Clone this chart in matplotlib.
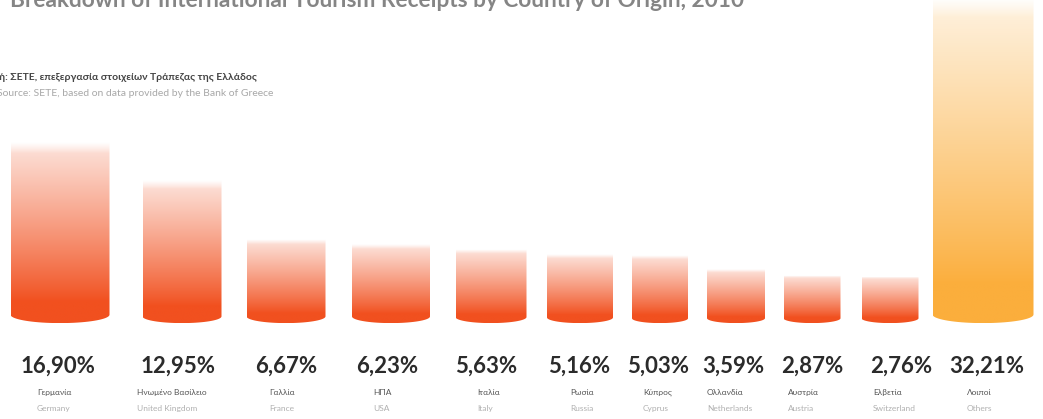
import numpy as np
import matplotlib.pyplot as plt
from matplotlib.path import Path
from matplotlib.colors import to_rgb
from matplotlib.transforms import blended_transform_factory

plt.rcParams['font.family'] = ['Lato', 'DejaVu Sans']

# receipts share by country of origin, 2010 (%)
names_el = ['Γερμανία', 'Ηνωμένο Βασίλειο', 'Γαλλία', 'ΗΠΑ', 'Ιταλία', 'Ρωσία',
            'Κύπρος', 'Ολλανδία', 'Αυστρία', 'Ελβετία', 'Λοιποί']
names_en = ['Germany', 'United Kingdom', 'France', 'USA', 'Italy', 'Russia',
            'Cyprus', 'Netherlands', 'Austria', 'Switzerland', 'Others']
shares = [16.90, 12.95, 6.67, 6.23, 5.63, 5.16, 5.03, 3.59, 2.87, 2.76, 32.21]

# layout in pixels across the page
bar_x = [60, 182, 286, 391, 491, 580, 660, 736, 812, 890, 983]
bar_w = [99, 79, 79, 78, 71, 66, 56, 58, 57, 57, 101]
pct_x = [58, 178, 286, 387, 486, 579, 658, 733, 812, 901, 987]
name_x = [37, 137, 269, 373, 477, 570, 643, 707, 788, 873, 967]

W, H = 1043, 419
PX = 9.48          # pixels per percentage point
ZERO = 303.2       # pixel row of the zero line
base = -2.1        # bars start a little below zero so short ones keep some body

fig = plt.figure(figsize=(W / 100, H / 100), dpi=100)
ax = fig.add_axes([0, 0, 1, 1])
ax.set_xlim(0, W)
ax.set_ylim((ZERO - H) / PX, ZERO / PX)
ax.axis('off')


def gradient(color, n=256):
    c = np.array(to_rgb(color))
    t = np.linspace(0, 1, n)
    w = 0.85 * np.clip((t - 0.12) / 0.88, 0, 1) ** 0.9
    w = np.where(t > 0.94, w + (1 - w) * (t - 0.94) / 0.06, w)
    img = c[None, :] * (1 - w[:, None]) + w[:, None]
    return img[:, None, :]


def bar_path(cx, w, top, bottom, depth):
    x0, x1 = cx - w / 2, cx + w / 2
    a = np.linspace(np.pi, 2 * np.pi, 40)
    ex = cx + w / 2 * np.cos(a)
    ey = bottom + depth + depth * np.sin(a)
    verts = [(x0, top)] + list(zip(ex, ey)) + [(x1, top), (x0, top)]
    codes = [Path.MOVETO] + [Path.LINETO] * (len(verts) - 2) + [Path.CLOSEPOLY]
    return Path(verts, codes)


for i, v in enumerate(shares):
    color = '#fbae3c' if names_en[i] == 'Others' else '#f1501f'
    cx, w = bar_x[i], bar_w[i]
    depth = 0.085 * w / PX
    img = ax.imshow(gradient(color), origin='lower', aspect='auto', interpolation='bilinear',
                    extent=[cx - w / 2, cx + w / 2, base, v], zorder=2)
    img.set_clip_path(bar_path(cx, w, v, base, depth), transform=ax.transData)

tr = blended_transform_factory(ax.transData, ax.transAxes)


def row(p):
    return 1 - p / H


for i, v in enumerate(shares):
    label = f'{v:.2f}'.replace('.', ',') + '%'
    ax.text(pct_x[i], row(373), label, transform=tr, ha='center', va='baseline',
            fontsize=16, fontweight='bold', color='#2b2b2b')
    ax.text(name_x[i], row(392), names_el[i], transform=tr, ha='left', va='center',
            fontsize=6, color='#555555')
    ax.text(name_x[i], row(408), names_en[i], transform=tr, ha='left', va='center',
            fontsize=6, color='#b0b0b0')

fig.text(10 / W, row(7), 'Breakdown of International Tourism Receipts by Country of Origin, 2010',
         ha='left', va='baseline', fontsize=16.3, fontweight='bold', color='#858585')
fig.text(257 / W, row(77), 'Πηγή: ΣΕΤΕ, επεξεργασία στοιχείων Τράπεζας της Ελλάδος',
         ha='right', va='center', fontsize=7.5, fontweight='bold', color='#444444')
fig.text(273 / W, row(93), 'Source: SETE, based on data provided by the Bank of Greece',
         ha='right', va='center', fontsize=7.5, color='#a8a8a8')

fig.savefig('out.png', dpi=100, facecolor='white')
